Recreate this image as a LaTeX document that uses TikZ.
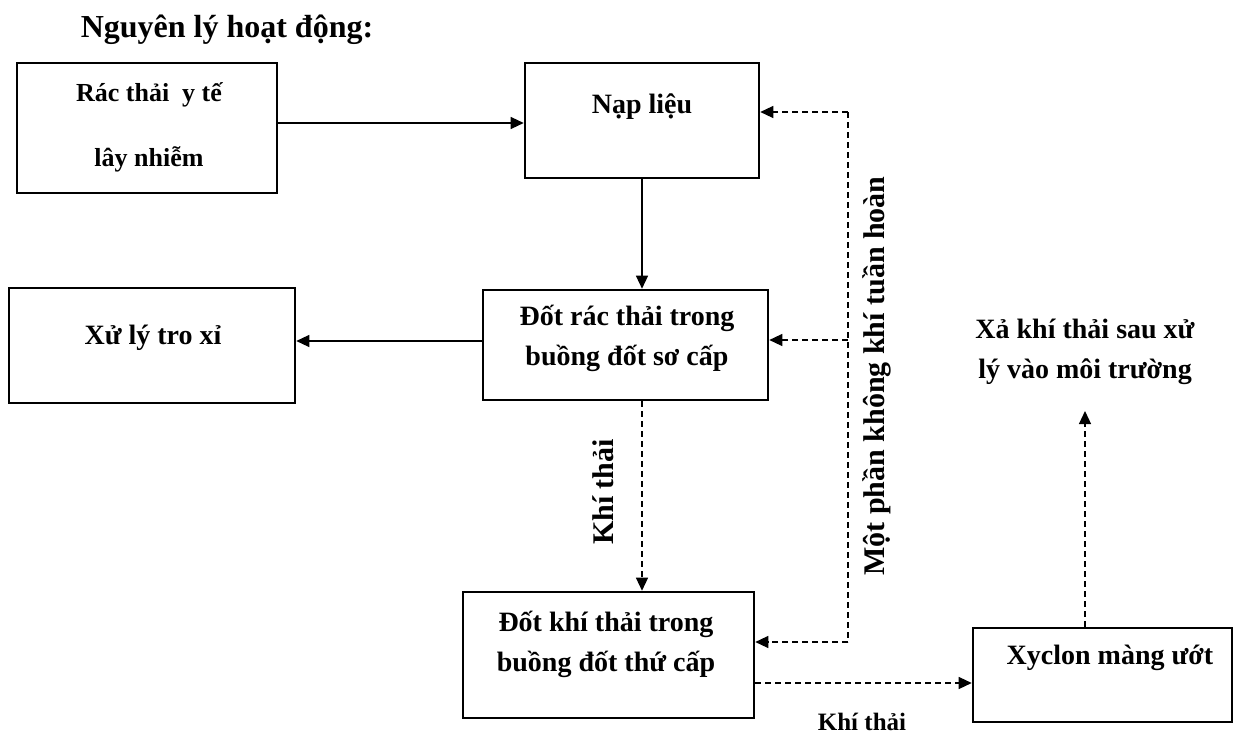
\documentclass[tikz,border=0pt]{standalone}
\usepackage{fontspec}
\setmainfont{Liberation Serif}
\usepackage{tikz}
\usetikzlibrary{arrows.meta}

\begin{document}
\begin{tikzpicture}[x=1pt,y=-1pt,
  box/.style={draw,line width=2.6pt,inner sep=0pt},
  txt/.style={font=\bfseries\fontsize{28}{40}\selectfont,align=center,inner sep=2pt},
  arr/.style={line width=1.3pt,-{Triangle[length=13pt,width=12pt]}},
  darr/.style={arr,dash pattern=on 6pt off 4pt}]
  \useasboundingbox (0,0) rectangle (1248,736);
  \node[font=\bfseries\fontsize{32}{36}\selectfont] (title) at (227,30) {Nguyên lý hoạt động:};
  % boxes
  \node[box,minimum width=260pt,minimum height=130pt] (rac) at (147,128) {};
  \node[box,minimum width=234pt,minimum height=115pt] (nap) at (642,120.5) {};
  \node[box,minimum width=286pt,minimum height=115pt] (xuly) at (152,345.5) {};
  \node[box,minimum width=285pt,minimum height=110pt] (dotrac) at (625.5,345) {};
  \node[box,minimum width=291pt,minimum height=126pt] (dotkhi) at (608.5,655) {};
  \node[box,minimum width=259pt,minimum height=94pt] (xyclon) at (1102.5,675) {};
  % box texts
  \node[txt,font=\bfseries\fontsize{26}{65}\selectfont] (racT) at (149,127.5) {Rác thải\ \ y tế\\lây nhiễm};
  \node[txt] (napT) at (642,107) {Nạp liệu};
  \node[txt] (xulyT) at (153,338) {Xử lý tro xỉ};
  \node[txt] (dotracT) at (627,338) {Đốt rác thải trong\\buồng đốt sơ cấp};
  \node[txt] (dotkhiT) at (606,644) {Đốt khí thải trong\\buồng đốt thứ cấp};
  \node[txt] (xyclonT) at (1110,658) {Xyclon màng ướt};
  \node[txt] (xa) at (1085,352) {Xả khí thải sau xử\\lý vào môi trường};
  % labels
  \node[txt,font=\bfseries\fontsize{30}{36}\selectfont,rotate=90] (recT) at (877,376) {Một phần không khí tuần hoàn};
  \node[txt,font=\bfseries\fontsize{30}{36}\selectfont,rotate=90] (khi1) at (603,492) {Khí thải};
  \node[txt,font=\bfseries\fontsize{25}{30}\selectfont] (khi2) at (862,722) {Khí thải};
  % solid flow
  \draw[arr] ([yshift=5pt]rac.east) -- ([yshift=5pt]rac.east -| nap.west);
  \draw[arr] (nap.south) -- (nap.south |- dotrac.north);
  \draw[arr] ([yshift=4pt]dotrac.west) -- ([yshift=4pt]dotrac.west -| xuly.east);
  % gas flow
  \draw[darr] (nap.south |- dotrac.south) -- (nap.south |- dotkhi.north);
  \draw[darr] ([yshift=-28pt]dotkhi.east) -- ([yshift=-28pt]dotkhi.east -| xyclon.west);
  \draw[darr] (xa.south |- xyclon.north) -- ([yshift=-24pt]xa.south);
  % recirculated air
  \coordinate (rtop) at (848,112);
  \coordinate (rmid) at (848,340);
  \coordinate (rbot) at (848,642);
  \draw[line width=1.3pt,dash pattern=on 6pt off 4pt] (rtop) -- (rbot);
  \draw[darr] (rtop) -- (rtop -| nap.east);
  \draw[darr] (rmid) -- (rmid -| dotrac.east);
  \draw[darr] (rbot) -- (rbot -| dotkhi.east);
\end{tikzpicture}
\end{document}
